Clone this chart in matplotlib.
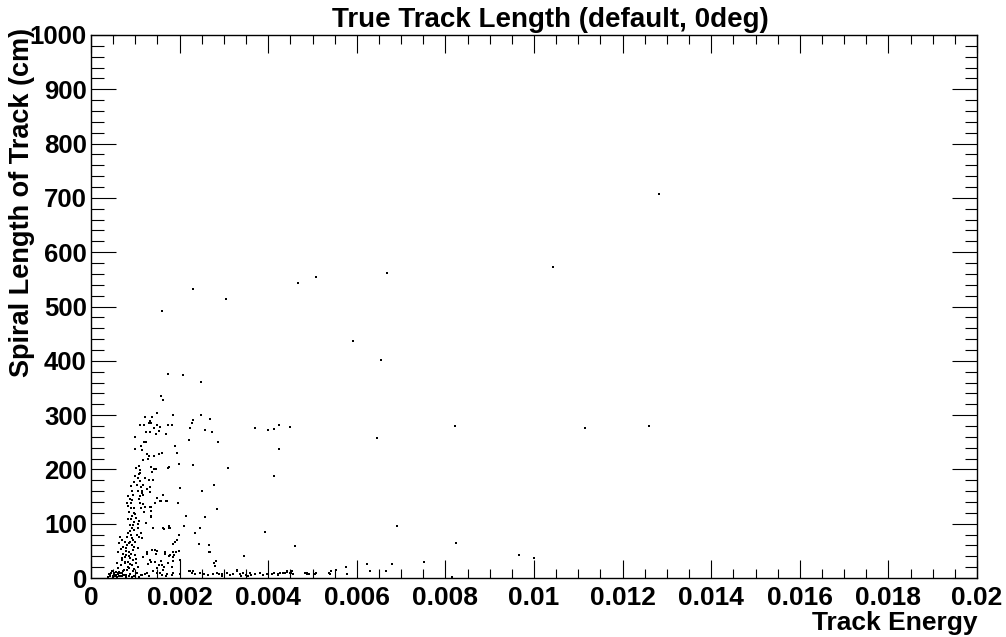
import numpy as np
import matplotlib
matplotlib.use("Agg")
import matplotlib.pyplot as plt
from matplotlib.ticker import MultipleLocator, FixedLocator

# ---------------- data (energy in units of 1e-3, length in cm) ----------------
iso_e = [12.82, 10.44, 6.69, 5.08, 4.67, 2.31, 3.05, 1.61, 5.91, 6.55, 1.73, 2.07, 2.49,
         1.58, 1.63, 1.49, 6.45, 8.22, 11.15, 12.60, 6.91, 8.23, 9.67, 10.00,
         3.70, 4.00, 4.14, 4.25, 4.49, 4.24, 4.12, 3.93, 4.60, 3.45, 3.09]
iso_l = [707, 573, 562, 554, 544, 533, 513, 492, 437, 401, 375, 374, 361,
         336, 328, 303, 258, 280, 277, 280, 96, 64, 43, 37,
         276, 273, 274, 282, 278, 238, 188, 85, 59, 41, 202]

upper_e = [1.23, 1.37, 1.33, 1.31, 1.35, 1.20, 1.11, 1.50, 1.43, 1.56, 1.54, 1.47, 1.33,
           1.24, 1.69, 1.73, 1.82, 1.84, 1.00, 1.12, 0.99, 1.16, 1.20, 1.24, 1.26, 1.30,
           1.43, 1.53, 1.60, 1.18, 1.28, 1.90, 1.02, 1.08, 1.11, 1.11, 1.35, 1.43, 1.38,
           1.47, 1.75, 2.49, 2.69, 2.31, 2.29, 2.23, 2.57, 2.74, 2.21, 2.86, 1.90, 1.95,
           1.99, 2.30, 1.74]
upper_l = [296, 297, 289, 285, 286, 282, 281, 282, 277, 279, 271, 265, 268,
           268, 266, 282, 282, 300, 260, 243, 238, 236, 250, 250, 228, 225,
           225, 228, 231, 217, 219, 243, 202, 206, 199, 194, 205, 200, 196,
           201, 205, 300, 293, 291, 286, 276, 273, 269, 254, 251, 244, 231,
           210, 209, 203]

mid_e = [1.00, 1.05, 1.11, 1.23, 1.31, 1.41, 0.90, 1.03, 1.12, 0.93, 1.05, 1.15, 1.33,
         1.33, 0.84, 0.95, 1.11, 1.18, 0.93, 1.08, 1.56, 1.71, 0.81, 0.90, 1.11, 1.18,
         1.22, 1.13, 1.33, 1.35, 0.84, 0.90, 0.97, 0.86, 0.98, 0.92, 1.35, 0.83, 0.90,
         1.02, 1.09, 1.63, 1.77, 1.75, 0.95, 0.93, 0.98, 0.88, 1.59, 1.69, 1.36, 1.45,
         1.35, 1.63, 1.50, 1.65, 1.76, 1.07, 1.14, 1.41,
         2.02, 2.51, 2.77, 1.96, 2.84, 2.15, 2.57, 1.78, 2.11, 2.46, 2.35,
         0.97, 1.08, 1.17, 1.27, 0.88, 1.00, 1.20, 1.25, 1.14, 0.96, 1.05, 0.87]
mid_l = [188, 184, 179, 184, 181, 181, 169, 171, 168, 160, 161, 160, 168,
         159, 151, 153, 151, 152, 144, 145, 141, 141, 139, 139, 138, 136,
         131, 129, 131, 123, 133, 128, 128, 122, 119, 115, 113, 109, 108,
         110, 105, 93, 92, 95, 98, 93, 88, 87, 141, 141, 130, 138,
         114, 153, 148, 90, 92, 92, 73, 92,
         165, 161, 171, 138, 127, 115, 112, 92, 96, 93, 82,
         176, 192, 172, 163, 146, 118, 122, 101, 156, 103, 99, 97]

low_e = [0.84, 0.90, 0.81, 0.92, 0.95, 0.88, 0.77, 0.82, 0.92, 1.03, 1.09, 1.12,
         0.65, 0.69, 0.64, 0.73, 0.67, 0.62, 0.72, 0.77,
         0.79, 0.86, 0.95, 0.99, 0.88, 0.95, 0.84, 0.77, 0.92, 1.02, 1.05, 0.86,
         0.73, 0.65, 0.81, 0.69, 0.95, 1.03,
         1.18, 1.26, 1.37, 1.33, 1.44, 1.54, 1.59, 1.67, 1.78, 1.86, 1.74, 1.82,
         1.63, 1.48, 1.26, 1.41, 1.56, 1.71, 1.82,
         1.99, 1.95, 1.90, 2.43, 2.66, 1.99, 2.68, 1.87, 1.84, 2.01, 1.82, 2.78,
         2.83, 2.79, 2.23, 2.31, 2.35, 3.30, 2.88, 2.96,
         1.75, 1.66, 1.49, 1.46, 1.29, 1.35, 1.26, 1.14, 1.84, 1.44, 1.67, 1.86,
         1.93, 1.61, 1.65, 2.67,
         0.70, 0.76, 0.80, 0.86, 0.91, 0.98, 1.01, 0.74, 0.83, 0.89, 0.97, 1.07,
         0.68, 0.79, 0.85, 0.94, 1.00, 0.71, 0.60, 0.58]
low_l = [82, 80, 76, 74, 70, 67, 67, 61, 61, 79, 76, 82,
         76, 70, 64, 58, 53, 48, 45, 39,
         50, 47, 52, 42, 37, 33, 30, 29, 24, 27, 21, 18,
         12, 10, 15, 9, 12, 9,
         39, 45, 52, 33, 29, 24, 31, 48, 42, 48, 27, 21,
         15, 18, 9, 12, 9, 7, 6,
         79, 70, 67, 63, 61, 50, 48, 42, 31, 33, 20, 28,
         31, 23, 12, 13, 7, 15, 7, 4,
         41, 47, 50, 45, 25, 30, 47, 73, 63, 52, 44, 39,
         48, 24, 21, 48,
         33, 27, 56, 64, 44, 57, 35, 15, 20, 26, 17, 55,
         24, 43, 40, 33, 66, 36, 18, 27]

floor_e = [0.47, 0.52, 0.43, 0.56, 0.62, 0.49, 0.39, 0.58, 0.67, 0.45, 0.54, 0.60,
           0.70, 0.75, 0.80, 0.41, 0.50, 0.64, 0.72, 0.85, 0.93, 1.00, 1.08, 1.15,
           1.22, 1.48, 1.86, 2.01, 2.22, 2.31, 2.27,
           2.46, 2.54, 2.65, 2.76, 2.84, 2.95, 3.06, 3.14, 3.21, 3.30, 3.36, 3.51,
           3.60, 3.70, 3.81, 3.89, 3.97, 4.12, 4.23, 4.34, 4.42, 4.49, 4.57,
           4.42, 4.38, 4.53, 4.51, 4.08, 4.23, 4.27, 4.83, 4.88, 4.92, 5.09, 5.38,
           5.41, 5.52, 5.76, 5.77, 6.22, 6.30, 6.67, 6.79, 7.52, 5.40, 4.87, 5.06,
           3.42, 8.14, 3.55, 3.62, 3.38,
           0.44, 0.53, 0.57, 0.63, 0.69, 0.78, 0.88, 0.97, 1.12, 1.30, 1.60, 1.70]
floor_l = [12, 9, 6, 6, 7, 2, 2, 2, 4, 10, 4, 9,
           3, 6, 2, 8, 3, 11, 5, 3, 2, 4, 2, 5,
           7, 9, 9, 7, 12, 13, 9,
           9, 7, 6, 7, 9, 7, 9, 6, 7, 13, 7, 6,
           9, 7, 9, 6, 7, 9, 6, 10, 11, 9, 7,
           13, 10, 12, 9, 7, 7, 10, 9, 10, 7, 9, 10,
           13, 15, 21, 7, 26, 12, 13, 26, 29, 8, 8, 7,
           9, 2, 4, 6, 3,
           4, 7, 11, 3, 9, 6, 8, 3, 5, 4, 6, 3]

x_ticks = [0, 0.002, 0.004, 0.006, 0.008, 0.01, 0.012, 0.014, 0.016, 0.018, 0.02]
x_tick_labels = ["0", "0.002", "0.004", "0.006", "0.008", "0.01", "0.012", "0.014",
                 "0.016", "0.018", "0.02"]
y_ticks = [0, 100, 200, 300, 400, 500, 600, 700, 800, 900, 1000]

title = "True Track Length (default, 0deg)"
xlabel = "Track Energy"
ylabel = "Spiral Length of Track (cm)"

# ---------------- plotting ----------------
plt.rcParams['font.family'] = ['Liberation Sans', 'DejaVu Sans']
W, H = 1006, 637
fig = plt.figure(figsize=(W / 100, H / 100), dpi=100)
ax = fig.add_axes([91 / W, 1 - 578 / H, (977 - 91) / W, (578 - 35) / H])

energy = np.array(iso_e + upper_e + mid_e + low_e + floor_e) * 1e-3
length = np.array(iso_l + upper_l + mid_l + low_l + floor_l, dtype=float)
ax.plot(energy, length, linestyle='none', marker='s', markersize=1.9,
        color='black', markeredgewidth=0)

ax.set_xlim(0, 0.02)
ax.set_ylim(0, 1000)
ax.xaxis.set_major_locator(FixedLocator(x_ticks))
ax.set_xticklabels(x_tick_labels)
ax.xaxis.set_minor_locator(MultipleLocator(0.0005))
ax.yaxis.set_major_locator(FixedLocator(y_ticks))
ax.set_yticklabels([str(v) for v in y_ticks])
ax.yaxis.set_minor_locator(MultipleLocator(20))

for s in ax.spines.values():
    s.set_linewidth(1.0)
    s.set_color('black')

ax.tick_params(axis='x', which='major', direction='in', length=13, width=0.8,
               top=True, bottom=True, labelsize=19, pad=6, colors='black')
ax.tick_params(axis='x', which='minor', direction='in', length=6.5, width=0.8,
               top=True, bottom=True)
ax.tick_params(axis='y', which='major', direction='in', length=18, width=0.8,
               left=True, right=True, labelsize=18.5, pad=3)
ax.tick_params(axis='y', which='minor', direction='in', length=9, width=0.8,
               left=True, right=True)
for lab in ax.get_xticklabels() + ax.get_yticklabels():
    lab.set_fontweight('bold')

fig.text(550 / W, 1 - 20 / H, title, ha='center', va='center',
         fontsize=20, fontweight='bold')
fig.text(977 / W, 1 - 623 / H, xlabel, ha='right', va='center',
         fontsize=19, fontweight='bold')
fig.text(22 / W, 1 - 28 / H, ylabel, ha='center', va='top', rotation=90,
         fontsize=19.5, fontweight='bold')

fig.savefig("out.png", dpi=100, facecolor='white')
